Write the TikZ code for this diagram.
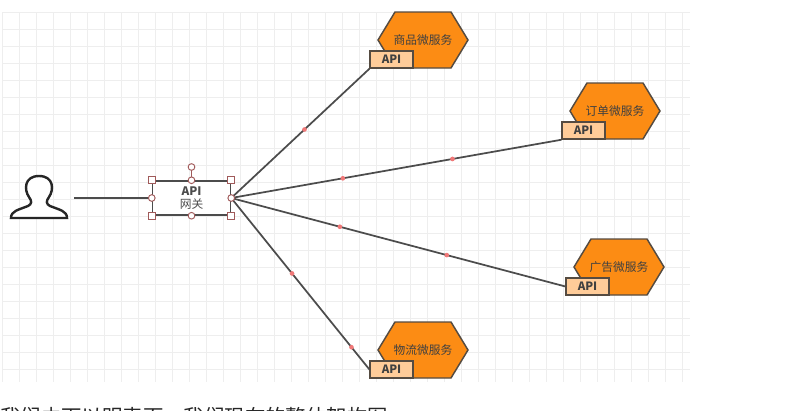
\documentclass[tikz,border=0pt]{standalone}
\usepackage{fontspec}
\setmainfont{Noto Sans CJK SC}
\definecolor{gridline}{RGB}{238,238,238}
\definecolor{hexfill}{RGB}{252,140,20}
\definecolor{edgedark}{RGB}{85,75,65}
\definecolor{apifill}{RGB}{255,204,153}
\definecolor{handle}{RGB}{160,90,90}
\definecolor{midpt}{RGB}{240,120,120}
\tikzset{
  hexnode/.style={draw=edgedark,fill=hexfill,line width=1.1pt},
  apibox/.style={draw=edgedark,fill=apifill,line width=1.1pt,minimum width=32pt,minimum height=12.75pt,inner sep=0pt,font=\fontsize{8.6}{8.6}\selectfont\bfseries,text=black!75},
  svclabel/.style={font=\fontsize{8.8}{9}\selectfont,text=black!75,inner sep=0pt},
  link/.style={draw=black!70,line width=1.3pt},
  corner/.style={draw=handle,fill=white,line width=0.7pt,minimum size=5pt,inner sep=0pt},
  round/.style={draw=handle,fill=white,line width=0.7pt,circle,minimum size=5pt,inner sep=0pt},
  dot/.style={fill=midpt,circle,minimum size=3.5pt,inner sep=0pt}
}
% one service: hexagon, label, API box
\newcommand{\service}[4]{%
  \path[hexnode] (#1-45,#2) -- (#1-28,#2+28) -- (#1+28,#2+28) -- (#1+45,#2) -- (#1+28,#2-28) -- (#1-28,#2-28) -- cycle;
  \node[svclabel] (#3) at (#1,#2) {#4};
  \node[apibox] (#3api) at (#1-31.5,#2+19.5) {API};
}
\begin{document}
\begin{tikzpicture}[x=0.75pt,y=0.75pt,yscale=-1,xscale=1]
\useasboundingbox (0,0) rectangle (794,411);
\fill[white] (0,0) rectangle (794,411);

% grid
\foreach \x in {2,19,...,690} \draw[gridline,line width=0.4pt] (\x,12) -- (\x,382);
\foreach \y in {12,29,...,382} \draw[gridline,line width=0.4pt] (2,\y) -- (690,\y);

% services
\service{423}{40}{goods}{商品微服务}
\service{615}{111}{order}{订单微服务}
\service{619}{267}{adv}{广告微服务}
\service{423}{350}{logi}{物流微服务}

% user
\path[draw=black!85,fill=white,line width=1.8pt] (11,218) .. controls (11,211) and (18,210) .. (28,206) .. controls (32,204) and (32,201) .. (29,197) .. controls (24,190) and (24,176) .. (39,176) .. controls (54,176) and (54,190) .. (49,197) .. controls (46,201) and (46,204) .. (50,206) .. controls (60,210) and (67,211) .. (67,218) -- cycle;

% gateway
\node[draw=black!70,fill=white,line width=1.1pt,minimum width=58.5pt,minimum height=25.5pt,inner sep=0pt,align=center,font=\fontsize{8.8}{10}\selectfont,text=black!70] (gate) at (191.5,198) {\textbf{API}\\网关};
\coordinate (userend) at (74,198);
\draw[link,line width=0.9pt] (userend) -- (gate.west);

\draw[link] (gate.east) -- (goodsapi.south west) node[dot,pos=0.53] (d1) {};
\draw[link] (gate.east) -- (orderapi.south west) node[dot,pos=0.338] (d2) {} node[dot,pos=0.67] (d3) {};
\draw[link] (gate.east) -- (advapi.west) node[dot,pos=0.325] (d4) {} node[dot,pos=0.645] (d5) {};
\draw[link] (gate.east) -- (logiapi.west) node[dot,pos=0.44] (d6) {} node[dot,pos=0.87] (d7) {};

% handles
\coordinate (rotpt) at (191.5,167);
\draw[handle,line width=0.7pt] (rotpt) -- (gate.north);
\node[round] (h0) at (rotpt) {};
\node[corner] (h1) at (gate.north west) {};
\node[corner] (h2) at (gate.north east) {};
\node[corner] (h3) at (gate.south west) {};
\node[corner] (h4) at (gate.south east) {};
\node[round] (h5) at (gate.north) {};
\node[round] (h6) at (gate.south) {};
\node[round] (h7) at (gate.west) {};
\node[round] (h8) at (gate.east) {};

% caption cut by the page
\node[anchor=west,inner sep=0pt,font=\fontsize{15.3}{15}\selectfont,text=black!85] (caption) at (0,417) {我们由下以明表面，我们现在的整体架构图};
\end{tikzpicture}
\end{document}
